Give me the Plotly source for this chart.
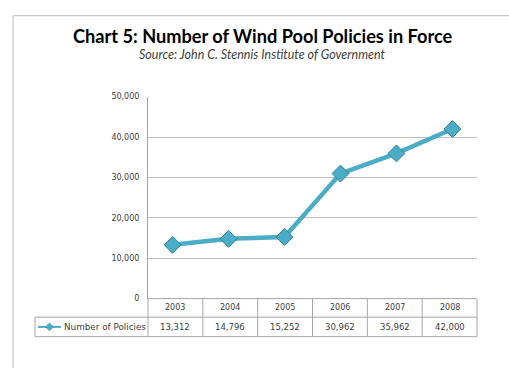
import plotly.graph_objects as go

W, H = 509, 368
years = ["2003", "2004", "2005", "2006", "2007", "2008"]
policies = [13312, 14796, 15252, 30962, 35962, 42000]
y_ticks = [0, 10000, 20000, 30000, 40000, 50000]
y_tick_text = ["0", "10,000", "20,000", "30,000", "40,000", "50,000"]
series_name = "Number of Policies"
title = "Chart 5: Number of Wind Pool Policies in Force"
subtitle = "Source: John C. Stennis Institute of Government"

# pixel layout helpers
def px(x):
    return x / W

def py(y):
    return 1 - y / H

plot_l, plot_r, plot_t, plot_b = 148, 477, 95, 302
row1_b, row2_b = 321, 341
legend_l = 35
line_col = "#4BACC6"
edge_col = "#31859C"
grid_col = "#BFBFBF"
txt_col = "#404040"

fig = go.Figure()
fig.add_trace(go.Scatter(
    x=years, y=policies, mode="lines+markers", name=series_name,
    line=dict(color=line_col, width=4.5),
    marker=dict(symbol="diamond", size=13, color=line_col,
                line=dict(color=edge_col, width=1)),
    showlegend=False, hoverinfo="x+y",
))

shapes = []
annotations = []
# outer frame
shapes.append(dict(type="rect", xref="paper", yref="paper",
                   x0=px(13), x1=px(W + 20), y0=py(H + 20), y1=py(12),
                   line=dict(color="#BFBFBF", width=1)))

# table
ncol = len(years)
cw = (plot_r - plot_l) / ncol
tl = dict(color="#A6A6A6", width=1)
shapes.append(dict(type="line", xref="paper", yref="paper", x0=px(plot_l), x1=px(plot_l),
                   y0=py(plot_b), y1=py(row2_b), line=tl))
shapes.append(dict(type="line", xref="paper", yref="paper", x0=px(legend_l), x1=px(plot_r),
                   y0=py(row1_b), y1=py(row1_b), line=tl))
shapes.append(dict(type="line", xref="paper", yref="paper", x0=px(legend_l), x1=px(plot_r),
                   y0=py(row2_b), y1=py(row2_b), line=tl))
shapes.append(dict(type="line", xref="paper", yref="paper", x0=px(legend_l), x1=px(legend_l),
                   y0=py(row1_b), y1=py(row2_b), line=tl))
shapes.append(dict(type="line", xref="paper", yref="paper", x0=px(plot_l), x1=px(plot_r),
                   y0=py(plot_b), y1=py(plot_b), line=tl))
for i in range(ncol):
    xr = plot_l + cw * (i + 1)
    shapes.append(dict(type="line", xref="paper", yref="paper", x0=px(xr), x1=px(xr),
                       y0=py(plot_b), y1=py(row2_b), line=tl))
    xc = plot_l + cw * (i + 0.5)
    annotations.append(dict(xref="paper", yref="paper", x=px(xc), y=py((plot_b + row1_b) / 2),
                            text=years[i], showarrow=False,
                            font=dict(family="DejaVu Sans", size=8, color=txt_col),
                            xanchor="center", yanchor="middle"))
    annotations.append(dict(xref="paper", yref="paper", x=px(xc), y=py((row1_b + row2_b) / 2),
                            text=f"{policies[i]:,}", showarrow=False,
                            font=dict(family="DejaVu Sans", size=8.5, color=txt_col),
                            xanchor="center", yanchor="middle"))

# legend key in table
ym = (row1_b + row2_b) / 2
shapes.append(dict(type="line", xref="paper", yref="paper", x0=px(38), x1=px(61),
                   y0=py(ym), y1=py(ym), line=dict(color=line_col, width=2)))
shapes.append(dict(type="path", xref="paper", yref="paper",
                   path=f"M {px(49.5)},{py(ym-4)} L {px(53.5)},{py(ym)} L {px(49.5)},{py(ym+4)} L {px(45.5)},{py(ym)} Z",
                   fillcolor=line_col, line=dict(color=edge_col, width=0.5)))
annotations.append(dict(xref="paper", yref="paper", x=px(62), y=py(ym), text=series_name,
                        showarrow=False, xanchor="left", yanchor="middle",
                        font=dict(family="DejaVu Sans", size=8.8, color=txt_col)))

# titles
annotations.append(dict(xref="paper", yref="paper", x=px(263), y=py(33), text=f"<b>{title}</b>",
                        showarrow=False, xanchor="center", yanchor="middle",
                        font=dict(family="Lato", size=18.2, color="#000000")))
annotations.append(dict(xref="paper", yref="paper", x=px(262), y=py(52), text=f"<i>{subtitle}</i>",
                        showarrow=False, xanchor="center", yanchor="middle",
                        font=dict(family="Lato", size=12.5, color="#404040")))

fig.update_layout(
    width=W, height=H, margin=dict(l=0, r=0, t=0, b=0),
    paper_bgcolor="white", plot_bgcolor="white",
    shapes=shapes, annotations=annotations,
    xaxis=dict(domain=[px(plot_l), px(plot_r)], type="category", showticklabels=False,
               showgrid=False, zeroline=False, showline=False, ticks="", fixedrange=True),
    yaxis=dict(domain=[py(plot_b), py(plot_t)], range=[0, 50000], tickvals=y_ticks,
               ticktext=y_tick_text, showgrid=True, gridcolor=grid_col, gridwidth=1,
               zeroline=False, showline=True, linecolor="#A6A6A6", linewidth=1,
               ticks="", ticklabelstandoff=6,
               tickfont=dict(family="DejaVu Sans", size=8, color=txt_col), fixedrange=True),
)

fig.write_html("out.html")
